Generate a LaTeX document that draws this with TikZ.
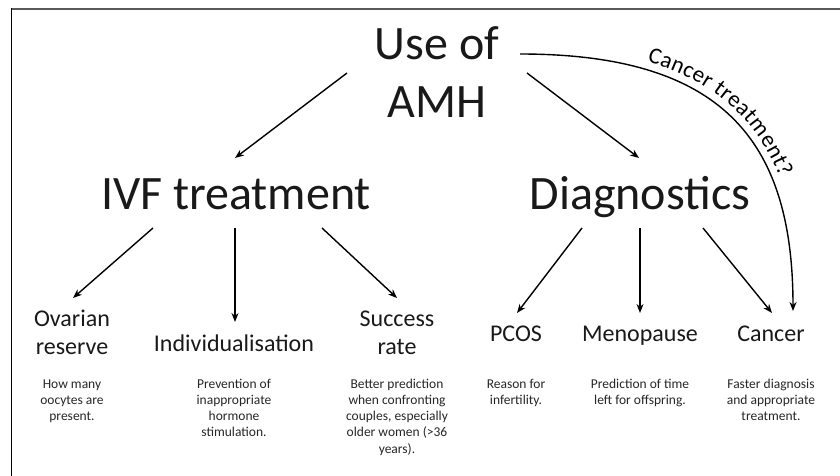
\documentclass[tikz,border=0pt]{standalone}
\usepackage{fontspec}
\setmainfont{Carlito}
\usetikzlibrary{arrows.meta,decorations.text}
\begin{document}
\begin{tikzpicture}[x=1bp,y=-1bp,
  big/.style={font=\fontsize{48bp}{58bp}\selectfont, inner sep=0pt, anchor=base, align=center, text=black!90},
  mid/.style={font=\fontsize{24bp}{28bp}\selectfont, inner sep=0pt, anchor=base, align=center, text=black!90},
  small/.style={font=\fontsize{13.5bp}{16.3bp}\selectfont, inner sep=0pt, anchor=base, align=center, text=black!85},
  arr/.style={line width=1.4bp, -{Stealth[length=9bp,width=7bp]}}]
\useasboundingbox (0,0) rectangle (840,476);
% frame
\draw[line width=2bp, black!65] (11,9) -- (840,9);
\draw[line width=1.8bp, black] (11.5,8) -- (11.5,476);
% main nodes (anchor base = last line)
\node[big] (amh) at (437,118) {Use of\\AMH};
\node[big] (ivf) at (236,210) {IVF treatment};
\node[big] (diag) at (640,210) {Diagnostics};
% level 3
\node[mid] (ova) at (72,355) {Ovarian\\reserve};
\node[mid] (ind) at (234,352) {Individualisation};
\node[mid] (suc) at (397,355) {Success\\rate};
\node[mid] (pcos) at (516,342) {PCOS};
\node[mid] (meno) at (640,342) {Menopause};
\node[mid] (canc) at (771,342) {Cancer};
% descriptions
\node[small] (dova) at (72,420.6) {How many\\oocytes are\\present.};
\node[small] (dind) at (234,436.9) {Prevention of\\inappropriate\\hormone\\stimulation.};
\node[small] (dsuc) at (397,453.2) {Better prediction\\when confronting\\couples, especially\\older women (>36\\years).};
\node[small] (dpcos) at (516,404.3) {Reason for\\infertility.};
\node[small] (dmeno) at (640,404.3) {Prediction of time\\left for offspring.};
\node[small] (dcanc) at (771,420.6) {Faster diagnosis\\and appropriate\\treatment.};
% connector end points
\coordinate (a1) at (347,73); \coordinate (a2) at (235,158);
\coordinate (b1) at (527,73); \coordinate (b2) at (639,158);
\coordinate (c1) at (520,54); \coordinate (c2) at (793,311);
\coordinate (i1) at (153,228); \coordinate (i1e) at (73,298);
\coordinate (i2) at (235,228); \coordinate (i2e) at (235,322);
\coordinate (i3) at (322,228); \coordinate (i3e) at (397,298);
\coordinate (d1) at (582,228); \coordinate (d1e) at (517,313);
\coordinate (d2) at (640,228); \coordinate (d2e) at (640,313);
\coordinate (d3) at (703,228); \coordinate (d3e) at (772,313);
\draw[arr] (a1) -- (a2);
\draw[arr] (b1) -- (b2);
\draw[arr] (i1) -- (i1e);
\draw[arr] (i2) -- (i2e);
\draw[arr] (i3) -- (i3e);
\draw[arr] (d1) -- (d1e);
\draw[arr] (d2) -- (d2e);
\draw[arr] (d3) -- (d3e);
\draw[arr, postaction={decorate, decoration={text along path, raise=8bp,
   text align={left indent=126bp},
   text={|\fontsize{23bp}{26bp}\selectfont|Cancer treatment?}}}]
  (c1) .. controls (720,54) and (793,138) .. (c2);
\end{tikzpicture}
\end{document}
